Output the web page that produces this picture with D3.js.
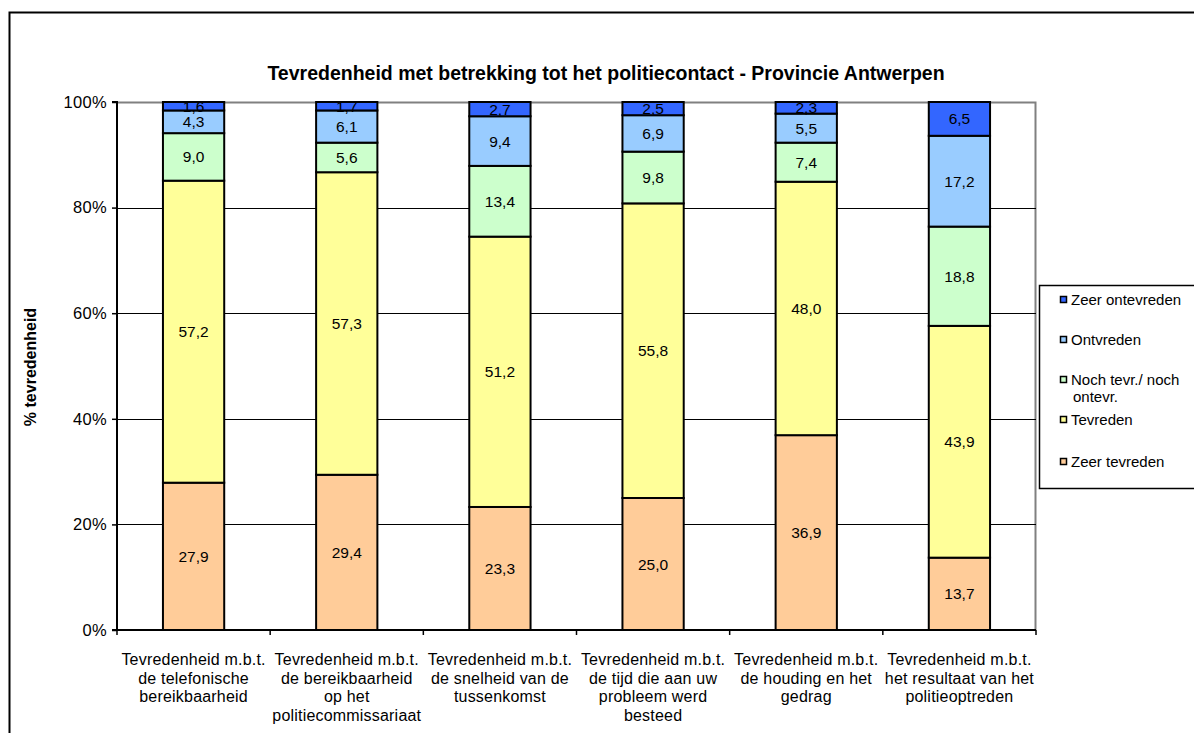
<!DOCTYPE html>
<html>
<head>
<meta charset="utf-8">
<script src="https://cdn.jsdelivr.net/npm/d3@7"></script>
<style>
  body { margin: 0; background: #fff; }
  text { font-family: "Liberation Sans", Arial, sans-serif; }
</style>
</head>
<body>
<div id="chart"></div>
<script>
const categories = [
  ["Tevredenheid m.b.t.", "de telefonische", "bereikbaarheid"],
  ["Tevredenheid m.b.t.", "de bereikbaarheid", "op het", "politiecommissariaat"],
  ["Tevredenheid m.b.t.", "de snelheid van de", "tussenkomst"],
  ["Tevredenheid m.b.t.", "de tijd die aan uw", "probleem werd", "besteed"],
  ["Tevredenheid m.b.t.", "de houding en het", "gedrag"],
  ["Tevredenheid m.b.t.", "het resultaat van het", "politieoptreden"]
];

const seriesNames = ["Zeer tevreden", "Tevreden", "Noch tevr./ noch ontevr.", "Ontvreden", "Zeer ontevreden"];
const seriesColors = ["#FFCC99", "#FFFF99", "#CCFFCC", "#99CCFF", "#3366FF"];

const zeerTevreden = [27.9, 29.4, 23.3, 25.0, 36.9, 13.7];
const tevreden = [57.2, 57.3, 51.2, 55.8, 48.0, 43.9];
const noch = [9.0, 5.6, 13.4, 9.8, 7.4, 18.8];
const ontvreden = [4.3, 6.1, 9.4, 6.9, 5.5, 17.2];
const zeerOntevreden = [1.6, 1.7, 2.7, 2.5, 2.3, 6.5];

const yTicks = [0, 20, 40, 60, 80, 100];

const seriesValues = [zeerTevreden, tevreden, noch, ontvreden, zeerOntevreden];

const W = 1194, H = 733;
const plot = { left: 117, right: 1036, top: 102, bottom: 630 };

const svg = d3.select("#chart").append("svg")
  .attr("width", W)
  .attr("height", H);

// outer frame
svg.append("rect")
  .attr("x", 9.5).attr("y", 12.5)
  .attr("width", 1300).attr("height", 800)
  .attr("fill", "none").attr("stroke", "#000").attr("stroke-width", 2);

const x = d3.scaleBand()
  .domain(d3.range(categories.length))
  .range([plot.left, plot.right])
  .paddingInner(0.6).paddingOuter(0.3);

const xOuter = d3.scaleBand()
  .domain(d3.range(categories.length))
  .range([plot.left, plot.right]);

const y = d3.scaleLinear().domain([0, 100]).range([plot.bottom, plot.top]).clamp(true);

// plot border (gray, top and right)
svg.append("path")
  .attr("d", `M${plot.left},${plot.top + 0.5}H${plot.right - 0.5}V${plot.bottom}`)
  .attr("fill", "none").attr("stroke", "#808080").attr("stroke-width", 2);

// gridlines
svg.append("g")
  .selectAll("line")
  .data(yTicks.filter(d => d > 0 && d < 100))
  .join("line")
  .attr("x1", plot.left).attr("x2", plot.right)
  .attr("y1", d => Math.round(y(d)) + 0.5).attr("y2", d => Math.round(y(d)) + 0.5)
  .attr("stroke", "#000").attr("stroke-width", 1);

// stacked data
const table = categories.map((c, i) => {
  const row = { i };
  seriesNames.forEach((s, k) => row[s] = seriesValues[k][i]);
  return row;
});
const stacked = d3.stack().keys(seriesNames)(table);

const layers = svg.append("g")
  .selectAll("g")
  .data(stacked)
  .join("g")
  .attr("fill", (d, k) => seriesColors[k]);

layers.selectAll("rect")
  .data(d => d)
  .join("rect")
  .attr("x", d => x(d.data.i))
  .attr("width", x.bandwidth())
  .attr("y", d => y(d[1]))
  .attr("height", d => y(d[0]) - y(d[1]))
  .attr("stroke", "#000")
  .attr("stroke-width", 2);

// value labels
layers.selectAll("text")
  .data((d, k) => d.map(p => ({ p, v: seriesValues[k][p.data.i] })))
  .join("text")
  .attr("x", d => x(d.p.data.i) + x.bandwidth() / 2)
  .attr("y", d => (y(d.p[0]) + y(d.p[1])) / 2)
  .attr("dy", "0.36em")
  .attr("text-anchor", "middle")
  .attr("fill", "#000")
  .style("font-size", "15.5px")
  .text(d => d.v.toFixed(1).replace(".", ","));

// y axis
const yAxis = d3.axisLeft(y)
  .tickValues(yTicks)
  .tickSize(5)
  .tickFormat(d => d + "%");

svg.append("g")
  .attr("transform", `translate(${plot.left},0)`)
  .call(yAxis)
  .call(g => g.select(".domain").attr("stroke-width", 2).attr("d", `M-5,${plot.top}H0V${plot.bottom}`))
  .call(g => g.selectAll(".tick line").attr("stroke-width", 1.5))
  .call(g => g.selectAll(".tick text")
    .attr("x", -10)
    .style("font-size", "16.5px")
    .style("letter-spacing", "0.3px")
    .style("font-family", "Liberation Sans, Arial, sans-serif"));

// x axis
svg.append("line")
  .attr("x1", plot.left - 5).attr("x2", plot.right)
  .attr("y1", plot.bottom).attr("y2", plot.bottom)
  .attr("stroke", "#000").attr("stroke-width", 2);

svg.append("g")
  .selectAll("line")
  .data(d3.range(categories.length + 1))
  .join("line")
  .attr("x1", i => i < categories.length ? xOuter(i) : plot.right)
  .attr("x2", i => i < categories.length ? xOuter(i) : plot.right)
  .attr("y1", plot.bottom).attr("y2", plot.bottom + 5)
  .attr("stroke", "#000").attr("stroke-width", 1.5);

const catLabels = svg.append("g")
  .selectAll("text")
  .data(categories)
  .join("text")
  .attr("text-anchor", "middle")
  .attr("x", (d, i) => xOuter(i) + xOuter.bandwidth() / 2)
  .attr("y", 665)
  .style("font-size", "16px")
  .style("letter-spacing", "0.2px");

catLabels.selectAll("tspan")
  .data(d => d)
  .join("tspan")
  .attr("x", function () { return this.parentNode.getAttribute("x"); })
  .attr("dy", (d, j) => j === 0 ? 0 : 18.5)
  .text(d => d);

// title
svg.append("text")
  .attr("x", 606).attr("y", 80)
  .attr("text-anchor", "middle")
  .style("font-size", "19.5px")
  .style("font-weight", "bold")
  .text("Tevredenheid met betrekking tot het politiecontact - Provincie Antwerpen");

// y axis title
svg.append("text")
  .attr("transform", `translate(36,367) rotate(-90)`)
  .attr("text-anchor", "middle")
  .style("font-size", "16px")
  .style("font-weight", "bold")
  .text("% tevredenheid");

// legend
const legend = svg.append("g");
legend.append("rect")
  .attr("x", 1039.5).attr("y", 285.5)
  .attr("width", 200).attr("height", 203)
  .attr("fill", "#fff").attr("stroke", "#000").attr("stroke-width", 1.5);

const legendItems = [
  { k: 4, y: 300, lines: ["Zeer ontevreden"] },
  { k: 3, y: 340, lines: ["Ontvreden"] },
  { k: 2, y: 380, lines: ["Noch tevr./ noch", "ontevr."] },
  { k: 1, y: 420, lines: ["Tevreden"] },
  { k: 0, y: 462, lines: ["Zeer tevreden"] }
];

const li = legend.selectAll("g.item")
  .data(legendItems)
  .join("g")
  .attr("class", "item")
  .attr("transform", d => `translate(0,${d.y})`);

li.append("rect")
  .attr("x", 1060.5).attr("y", -3.5)
  .attr("width", 6).attr("height", 6)
  .attr("fill", d => seriesColors[d.k])
  .attr("stroke", "#000").attr("stroke-width", 1.5);

li.append("text")
  .attr("x", 1070)
  .attr("y", 0)
  .style("font-size", "15px")
  .selectAll("tspan")
  .data(d => d.lines)
  .join("tspan")
  .attr("x", (d, j) => j === 0 ? 1071 : 1073)
  .attr("dy", (d, j) => j === 0 ? "0.36em" : 17)
  .text(d => d);
</script>
</body>
</html>
